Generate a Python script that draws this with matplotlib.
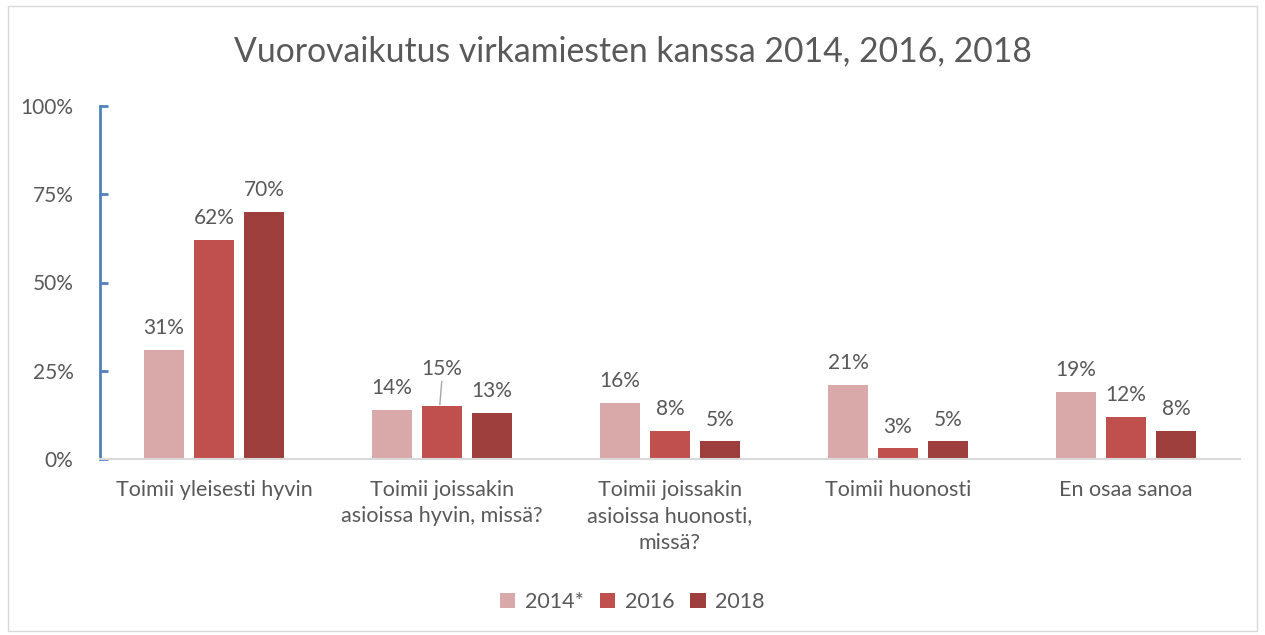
import numpy as np
import matplotlib
matplotlib.use('Agg')
import matplotlib.pyplot as plt
from matplotlib.patches import Rectangle

categories = ['Toimii yleisesti hyvin',
              'Toimii joissakin\nasioissa hyvin, missä?',
              'Toimii joissakin\nasioissa huonosti,\nmissä?',
              'Toimii huonosti',
              'En osaa sanoa']
years = ['2014*', '2016', '2018']
v2014 = [31, 14, 16, 21, 19]
v2016 = [62, 15, 8, 3, 12]
v2018 = [70, 13, 5, 5, 8]
colors = ['#D9A9A9', '#C0504E', '#9E3E3D']

plt.rcParams['font.family'] = ['Lato', 'DejaVu Sans']
TXT = '#595959'

fig = plt.figure(figsize=(12.65, 6.35), dpi=100)
fig.patches.append(Rectangle((0.006, 0.006), 0.988, 0.984, transform=fig.transFigure,
                             fill=False, edgecolor='#D9D9D9', linewidth=1))
ax = fig.add_axes([100 / 1265, 1 - 459 / 635, 1140 / 1265, 353 / 635])

x = np.arange(len(categories))
step = 50 / 228
width = 40 / 228
series = [v2014, v2016, v2018]
for i, (vals, c, lab) in enumerate(zip(series, colors, years)):
    pos = x + (i - 1) * step
    ax.bar(pos, vals, width=width, color=c, label=lab)
    for j, (p, v) in enumerate(zip(pos, vals)):
        if i == 1 and j == 1:
            # this label sits higher, with a leader line down to its bar
            ax.annotate(f'{v}%', xy=(p - 0.01, v), xytext=(p, v + 7.8),
                        ha='center', va='bottom', fontsize=15, color=TXT,
                        arrowprops=dict(arrowstyle='-', color='#A6A6A6', lw=1,
                                        shrinkA=0, shrinkB=1,
                                        relpos=(0.5, 0)))
        else:
            ax.text(p, v + 3.3, f'{v}%', ha='center', va='bottom',
                    fontsize=15, color=TXT)

ax.set_xlim(-0.5, 4.5)
ax.set_ylim(0, 100)
ax.set_yticks([0, 25, 50, 75, 100])
ax.set_yticklabels([f'{t}%' for t in [0, 25, 50, 75, 100]])
ax.set_xticks(x)
ax.set_xticklabels(categories, linespacing=1.4)
ax.tick_params(axis='y', direction='in', length=6, color='#4F81BD', width=2,
               labelsize=15, labelcolor=TXT, pad=19)
ax.tick_params(axis='x', length=0, labelsize=15.5, labelcolor=TXT, pad=15)
for s in ['top', 'right']:
    ax.spines[s].set_visible(False)
ax.spines['left'].set_color('#4F81BD')
ax.spines['left'].set_linewidth(2)
ax.spines['bottom'].set_color('#D9D9D9')
ax.spines['bottom'].set_linewidth(1.5)

fig.text(0.5, 1 - 51 / 635, 'Vuorovaikutus virkamiesten kanssa 2014, 2016, 2018',
         ha='center', va='center', fontsize=24.3, color=TXT)

leg = fig.legend(loc='center', bbox_to_anchor=(0.5, 1 - 602 / 635), ncol=3,
                 frameon=False, fontsize=15.5, handlelength=0.7, handleheight=0.7,
                 handletextpad=0.45, columnspacing=0.75)
for t in leg.get_texts():
    t.set_color(TXT)

fig.savefig('out.png', dpi=100)
